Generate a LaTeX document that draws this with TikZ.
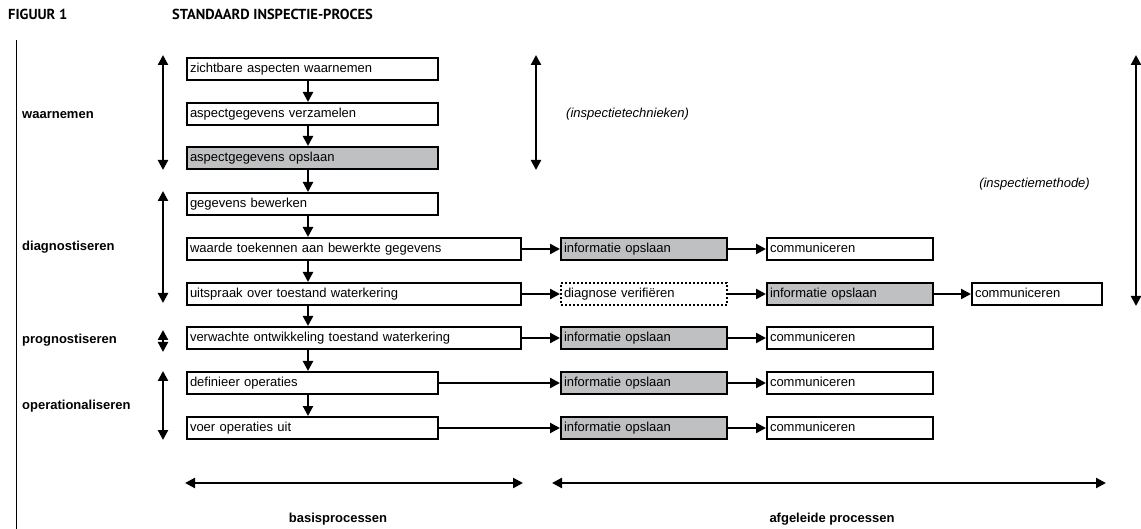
\documentclass[tikz,border=0pt]{standalone}
\usepackage{fontspec}
\setmainfont{Liberation Sans}
\newfontfamily\titlefont{PT Sans}
\usetikzlibrary{arrows.meta}
\definecolor{boxgray}{RGB}{190,192,194}
\begin{document}
\begin{tikzpicture}[x=1pt,y=-1pt,
 box/.style={draw, line width=2pt, anchor=west, minimum height=22pt, inner xsep=3pt, inner ysep=0pt, align=left, font=\fontsize{13}{15}\selectfont, text height=9.5pt, text depth=2.5pt},
 narrow/.style={box, text width=245pt},
 wide/.style={box, text width=328pt},
 mid/.style={box, text width=160pt},
 far/.style={box, text width=124pt},
 grey/.style={fill=boxgray},
 dotbox/.style={dash pattern=on 2pt off 2pt},
 arr/.style={line width=2.2pt, -{Triangle[length=10pt,width=10pt]}},
 dar/.style={line width=2.2pt, {Triangle[length=10pt,width=10pt]}-{Triangle[length=10pt,width=10pt]}},
 lab/.style={font=\bfseries\fontsize{13}{15}\selectfont, anchor=west, inner sep=0pt},
 ital/.style={font=\itshape\fontsize{13}{15}\selectfont, inner sep=0pt},
 ttl/.style={font=\titlefont\bfseries\fontsize{14.5}{16}\selectfont, anchor=west, inner sep=0pt},
]
\useasboundingbox (0,0) rectangle (1141,529);

% titles
\node[ttl] (t1) at (8,14) {FIGUUR 1};
\node[ttl] (t2) at (172,14) {STANDAARD INSPECTIE-PROCES};

% left rule
\coordinate (r0) at (16,40);
\coordinate (r1) at (16,529);
\draw[line width=0.8pt] (r0) -- (r1);

% main column
\node[narrow] (b1) at (186,69) {zichtbare aspecten waarnemen};
\node[narrow] (b2) at (186,114) {aspectgegevens verzamelen};
\node[narrow,grey] (b3) at (186,158) {aspectgegevens opslaan};
\node[narrow] (b4) at (186,204) {gegevens bewerken};
\node[wide] (b5) at (186,249) {waarde toekennen aan bewerkte gegevens};
\node[wide] (b6) at (186,294) {uitspraak over toestand waterkering};
\node[wide] (b7) at (186,338) {verwachte ontwikkeling toestand waterkering};
\node[narrow] (b8) at (186,383) {definieer operaties};
\node[narrow] (b9) at (186,428) {voer operaties uit};

\coordinate (vx) at (308,0);
\foreach \a/\b in {b1/b2,b2/b3,b3/b4,b4/b5,b5/b6,b6/b7,b7/b8,b8/b9}
  \draw[arr] (\a.south -| vx) -- (\b.north -| vx);

% derived processes
\node[mid,grey] (i5) at (560,249) {informatie opslaan};
\node[mid] (c5) at (766,249) {communiceren};
\node[mid,dotbox] (d6) at (560,294) {diagnose verifiëren};
\node[mid,grey] (i6) at (766,294) {informatie opslaan};
\node[far] (c6) at (971,294) {communiceren};
\node[mid,grey] (i7) at (560,338) {informatie opslaan};
\node[mid] (c7) at (766,338) {communiceren};
\node[mid,grey] (i8) at (560,383) {informatie opslaan};
\node[mid] (c8) at (766,383) {communiceren};
\node[mid,grey] (i9) at (560,428) {informatie opslaan};
\node[mid] (c9) at (766,428) {communiceren};

\draw[arr] (b5.east) -- (i5.west);
\draw[arr] (i5.east) -- (c5.west);
\draw[arr] (b6.east) -- (d6.west);
\draw[arr] (d6.east) -- (i6.west);
\draw[arr] (i6.east) -- (c6.west);
\draw[arr] (b7.east) -- (i7.west);
\draw[arr] (i7.east) -- (c7.west);
\draw[arr] (b8.east) -- (i8.west);
\draw[arr] (i8.east) -- (c8.west);
\draw[arr] (b9.east) -- (i9.west);
\draw[arr] (i9.east) -- (c9.west);

% phase labels and arrows
\node[lab] (lw) at (22,115) {waarnemen};
\node[lab] (ld) at (22,247) {diagnostiseren};
\node[lab] (lp) at (22,340) {prognostiseren};
\node[lab] (lo) at (22,406) {operationaliseren};

\coordinate (pa1) at (163,55);  \coordinate (pa2) at (163,170);
\coordinate (pb1) at (163,191); \coordinate (pb2) at (163,303);
\coordinate (pc1) at (163,330); \coordinate (pc2) at (163,352);
\coordinate (pd1) at (163,371); \coordinate (pd2) at (163,440);
\draw[dar] (pa1) -- (pa2);
\draw[dar] (pb1) -- (pb2);
\draw[dar] (pc1) -- (pc2);
\draw[dar] (pd1) -- (pd2);

% techniques / method
\coordinate (ta1) at (536,55); \coordinate (ta2) at (536,170);
\draw[dar] (ta1) -- (ta2);
\node[ital, anchor=west] (it1) at (566,114) {(inspectietechnieken)};
\coordinate (ma1) at (1136,55); \coordinate (ma2) at (1136,306);
\draw[dar] (ma1) -- (ma2);
\node[ital, anchor=east] (it2) at (1090,184) {(inspectiemethode)};

% bottom
\coordinate (ba1) at (185,483); \coordinate (ba2) at (523,483);
\coordinate (aa1) at (552,483); \coordinate (aa2) at (1106,483);
\draw[dar] (ba1) -- (ba2);
\draw[dar] (aa1) -- (aa2);
\node[lab, anchor=center] (bl) at (338,519) {basisprocessen};
\node[lab, anchor=center] (al) at (832,519) {afgeleide processen};
\end{tikzpicture}
\end{document}
